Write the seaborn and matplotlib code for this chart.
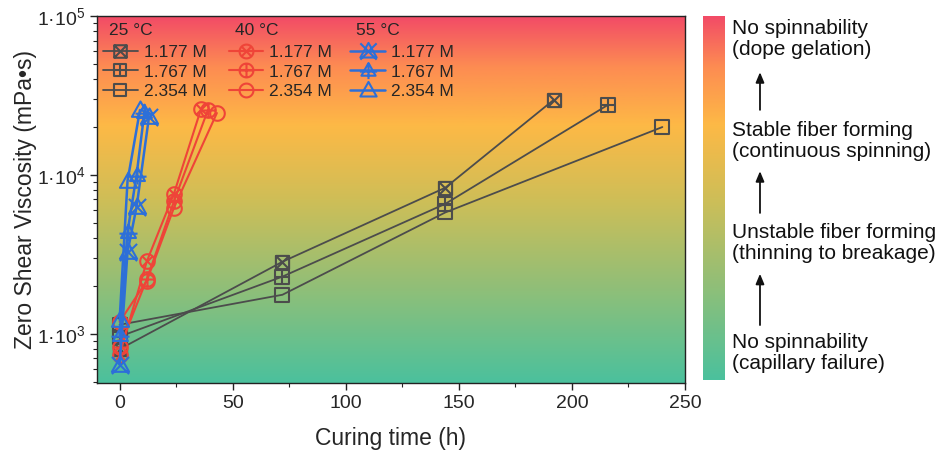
import numpy as np
import pandas as pd
import matplotlib
matplotlib.use("Agg")
import matplotlib.pyplot as plt
import seaborn as sns
from matplotlib.path import Path
from matplotlib.lines import Line2D
from matplotlib.ticker import FuncFormatter, LogLocator, MultipleLocator
from matplotlib.colors import LinearSegmentedColormap
from matplotlib.patches import FancyArrowPatch

# ---- data: curing time (h) and zero shear viscosity (mPa·s) ----
conc_labels = ["1.177 M", "1.767 M", "2.354 M"]
temps = ["25 °C", "40 °C", "55 °C"]

t_25_1177 = [0, 72, 144, 192]
v_25_1177 = [800, 2840, 8300, 29700]
t_25_1767 = [0, 72, 144, 216]
v_25_1767 = [960, 2290, 6570, 27600]
t_25_2354 = [0, 72, 144, 240]
v_25_2354 = [1140, 1760, 5800, 20000]

t_40_1177 = [0, 12, 24, 36]
v_40_1177 = [740, 2850, 7600, 26000]
t_40_1767 = [0, 12, 24, 39]
v_40_1767 = [820, 2200, 6800, 25500]
t_40_2354 = [0, 12, 24, 43]
v_40_2354 = [1190, 2150, 6200, 24500]

t_55_1177 = [0, 3.5, 7.5, 13]
v_55_1177 = [640, 3280, 6290, 23200]
t_55_1767 = [0, 3.5, 7.5, 11]
v_55_1767 = [985, 4380, 10000, 25000]
t_55_2354 = [0, 3.5, 9]
v_55_2354 = [1225, 9170, 25600]

stage_labels = [
    "No spinnability\n(dope gelation)",
    "Stable fiber forming\n(continuous spinning)",
    "Unstable fiber forming\n(thinning to breakage)",
    "No spinnability\n(capillary failure)",
]

# ---- marker shapes ----
M, L, C = Path.MOVETO, Path.LINETO, Path.CLOSEPOLY


def shape(outline, extra):
    verts, codes = [], []
    verts += outline + [outline[0]]
    codes += [M] + [L] * (len(outline) - 1) + [C]
    for a, b in extra:
        verts += [a, b]
        codes += [M, L]
    return Path(verts, codes)


sq = [(-1, -1), (1, -1), (1, 1), (-1, 1)]
circ = [(np.cos(a), np.sin(a)) for a in np.linspace(0, 2 * np.pi, 40, endpoint=False)]
tri = [(0, 1.0), (-0.95, -0.7), (0.95, -0.7)]
d = 0.707
mk = {
    ("25 °C", 0): shape(sq, [((-1, -1), (1, 1)), ((-1, 1), (1, -1))]),
    ("25 °C", 1): shape(sq, [((-1, 0), (1, 0)), ((0, -1), (0, 1))]),
    ("25 °C", 2): shape(sq, []),
    ("40 °C", 0): shape(circ, [((-d, -d), (d, d)), ((-d, d), (d, -d))]),
    ("40 °C", 1): shape(circ, [((-1, 0), (1, 0)), ((0, -1), (0, 1))]),
    ("40 °C", 2): shape(circ, []),
    ("55 °C", 0): shape(tri, [((-0.95, -0.95), (0.95, 0.95)), ((-0.95, 0.95), (0.95, -0.95))]),
    ("55 °C", 1): shape(tri, [((-1.15, -0.15), (1.15, -0.15)), ((0, -1.15), (0, 1.0))]),
    ("55 °C", 2): shape(tri, []),
}

colors = {"25 °C": "#4c4c4c", "40 °C": "#ef4438", "55 °C": "#2d6fd8"}
msize = {"25 °C": 9.5, "40 °C": 10.5, "55 °C": 13}
lwidth = {"25 °C": 1.3, "40 °C": 1.5, "55 °C": 1.8}

series = {
    "25 °C": [(t_25_1177, v_25_1177), (t_25_1767, v_25_1767), (t_25_2354, v_25_2354)],
    "40 °C": [(t_40_1177, v_40_1177), (t_40_1767, v_40_1767), (t_40_2354, v_40_2354)],
    "55 °C": [(t_55_1177, v_55_1177), (t_55_1767, v_55_1767), (t_55_2354, v_55_2354)],
}

# ---- style ----
sns.set_theme(style="ticks")
plt.rcParams["font.family"] = ["Liberation Sans", "DejaVu Sans"]
plt.rcParams["mathtext.fontset"] = "custom"
plt.rcParams["mathtext.rm"] = "Liberation Sans"
plt.rcParams["mathtext.it"] = "Liberation Sans:italic"
plt.rcParams["mathtext.bf"] = "Liberation Sans:bold"
plt.rcParams["axes.linewidth"] = 1.0

fig = plt.figure(figsize=(9.4, 4.54), dpi=100)
ax = fig.add_axes([0.1032, 0.1564, 0.6255, 0.8084])

grad_cmap = LinearSegmentedColormap.from_list(
    "spin",
    [(0.0, "#4bc19d"), (0.25, "#8ebf79"), (0.5, "#cfbe57"),
     (0.7, "#fdb946"), (0.86, "#fd8c52"), (1.0, "#f24a67")],
)
grad = np.linspace(0, 1, 256).reshape(-1, 1)
ax.imshow(grad, cmap=grad_cmap, origin="lower", aspect="auto",
          extent=[0, 1, 0, 1], transform=ax.transAxes, zorder=0)

for temp in temps:
    for i, (tt, vv) in enumerate(series[temp]):
        df = pd.DataFrame({"t": tt, "v": vv})
        sns.lineplot(data=df, x="t", y="v", ax=ax, color=colors[temp],
                     lw=lwidth[temp], marker=mk[(temp, i)], ms=msize[temp],
                     mfc="none", mec=colors[temp], mew=1.5, sort=False,
                     estimator=None, legend=False, zorder=3)

ax.set_yscale("log")
ax.set_xlim(-10, 250)
ax.set_ylim(490, 1e5)
ax.xaxis.set_major_locator(MultipleLocator(50))
ax.xaxis.set_minor_locator(MultipleLocator(25))
ax.yaxis.set_major_locator(LogLocator(base=10))
ax.yaxis.set_minor_locator(LogLocator(base=10, subs=np.arange(2, 10)))
ax.yaxis.set_minor_formatter(FuncFormatter(lambda v, p: ""))
ax.yaxis.set_major_formatter(
    FuncFormatter(lambda v, p: "1·10$^{%d}$" % int(round(np.log10(v)))))
ax.tick_params(axis="both", which="major", direction="out", length=5,
               width=1.0, labelsize=14, color="#222222")
ax.tick_params(axis="both", which="minor", direction="out", length=3,
               width=0.8, color="#222222")
for s in ax.spines.values():
    s.set_color("#222222")
ax.set_xlabel("Curing time (h)", fontsize=16.5, labelpad=11)
ax.set_ylabel("Zero Shear Viscosity (mPa•s)", fontsize=16.5, labelpad=0)

# ---- legends, one column per temperature ----
leg_x = [0.004, 0.218, 0.425]
legs = []
for temp, lx in zip(temps, leg_x):
    hs = [Line2D([], [], color=colors[temp], lw=lwidth[temp],
                 marker=mk[(temp, i)], ms=msize[temp] * 0.95, mfc="none",
                 mec=colors[temp], mew=1.5) for i in range(3)]
    lg = ax.legend(hs, conc_labels, title=temp, loc="upper left",
                   bbox_to_anchor=(lx, 0.99), frameon=False, fontsize=12.5,
                   title_fontsize=12.5, alignment="left", handlelength=2.0,
                   handletextpad=0.35, labelspacing=0.24, borderpad=0.2,
                   borderaxespad=0.0)
    lg._legend_box.sep = 5
    lg.get_title().set_position((6, 0))
    legs.append(lg)
for lg in legs[:-1]:
    ax.add_artist(lg)

# ---- colour bar with spinnability stages ----
cax = fig.add_axes([0.748, 0.163, 0.023, 0.8018])
cax.imshow(grad, cmap=grad_cmap, origin="lower", aspect="auto", extent=[0, 1, 0, 1])
cax.set_axis_off()

text_y = [0.914, 0.689, 0.465, 0.222]
for lbl, ty in zip(stage_labels, text_y):
    fig.text(0.779, ty, lbl, fontsize=15, va="center", ha="left",
             linespacing=1.13, color="#111111")

arrow_spans = [(0.758, 0.841), (0.531, 0.623), (0.284, 0.397)]
for y0, y1 in arrow_spans:
    fig.add_artist(FancyArrowPatch(
        (0.8085, y0), (0.8085, y1), transform=fig.transFigure,
        arrowstyle="-|>,head_length=6,head_width=2.5", lw=1.3, color="#111111",
        mutation_scale=1, shrinkA=0, shrinkB=0))

fig.savefig("out.png", dpi=100)
